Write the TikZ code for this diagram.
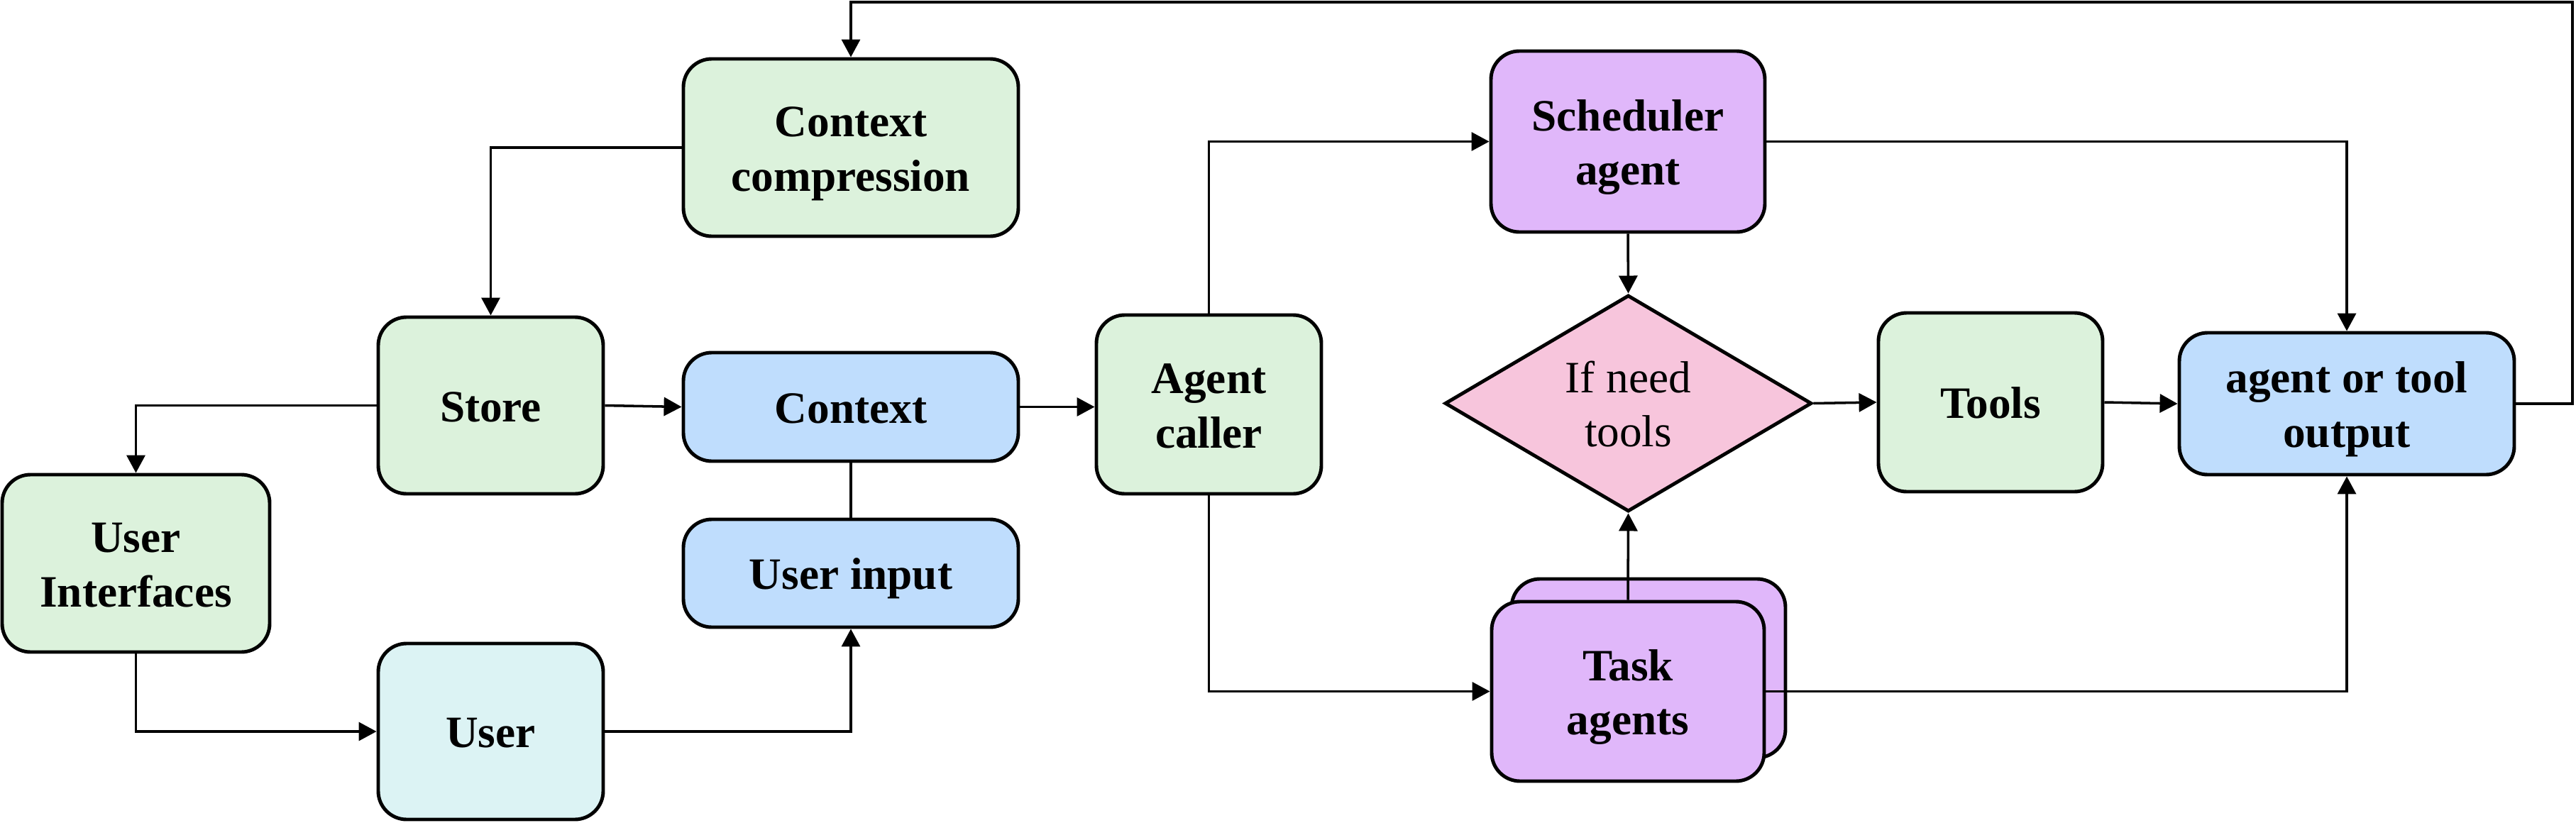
\documentclass[tikz,border=0pt]{standalone}
\usepackage{fontspec}
\setmainfont{Liberation Serif}
\usetikzlibrary{arrows.meta,shapes.geometric}
\definecolor{gfill}{HTML}{DCF2DC}
\definecolor{bfill}{HTML}{BFDDFD}
\definecolor{pfill}{HTML}{E0B7FA}
\definecolor{cfill}{HTML}{DCF3F4}
\definecolor{dfill}{HTML}{F7C5DC}
% one line = 21.8pt: 17.44pt above the baseline, 4.36pt below
\newcommand\lnstrut{\rule[-4.36pt]{0pt}{21.8pt}}
\newcommand\lbl[1]{\vbox{\offinterlineskip\halign{\hfil\lnstrut##\hfil\cr#1\crcr}}}
\tikzset{
  box/.style={draw=black, line width=1.4pt, rounded corners=0.4cm, inner sep=0pt,
    font=\fontsize{18}{21.8}\selectfont\bfseries},
  gbox/.style={box, fill=gfill},
  bbox/.style={box, fill=bfill},
  pbox/.style={box, fill=pfill},
  cbox/.style={box, fill=cfill},
  conn/.style={line width=1pt, -{Triangle[length=0.25cm,width=0.26cm]}},
  plain/.style={line width=1pt},
}
\begin{document}
\begin{tikzpicture}
\useasboundingbox (0,0) rectangle (36.30,11.59);
% nodes
\node[gbox, minimum width=4.72cm, minimum height=2.50cm] (cc) at (11.99,9.51) {\lbl{Context\cr compression}};
\node[gbox, minimum width=3.17cm, minimum height=2.49cm] (store) at (6.915,5.875) {\lbl{Store}};
\node[bbox, minimum width=4.72cm, minimum height=1.53cm] (ctx) at (11.99,5.855) {\lbl{Context}};
\node[bbox, minimum width=4.72cm, minimum height=1.52cm] (uin) at (11.99,3.51) {\lbl{User input}};
\node[gbox, minimum width=3.77cm, minimum height=2.50cm] (ui) at (1.915,3.65) {\lbl{User\cr Interfaces}};
\node[cbox, minimum width=3.17cm, minimum height=2.48cm] (user) at (6.915,1.28) {\lbl{User}};
\node[gbox, minimum width=3.17cm, minimum height=2.52cm] (ac) at (17.035,5.89) {\lbl{Agent\cr caller}};
\node[pbox, minimum width=3.86cm, minimum height=2.55cm] (sch) at (22.94,9.595) {\lbl{Scheduler\cr agent}};
\node[diamond, draw=black, line width=1.4pt, fill=dfill, minimum width=5.17cm, minimum height=3.05cm, inner sep=0pt,
  font=\fontsize{18}{21.8}\selectfont] (dec) at (22.945,5.905)
  {\makebox[0pt]{\raisebox{-17.44pt}[0pt][0pt]{\lbl{If need\cr tools}}}};
\node[gbox, minimum width=3.16cm, minimum height=2.52cm] (tools) at (28.05,5.92) {\lbl{Tools}};
\node[bbox, minimum width=4.72cm, minimum height=2.00cm] (out) at (33.07,5.90) {\lbl{agent or tool\cr output}};
\node[pbox, minimum width=3.86cm, minimum height=2.52cm] (taskb) at (23.23,2.17) {};
\node[pbox, minimum width=3.84cm, minimum height=2.53cm] (task) at (22.94,1.845) {\lbl{Task\cr agents}};
% coordinates
\coordinate (tr) at (36.25,11.56);
% connectors
\draw[conn] (out.east) -| (tr) -| (cc.north);
\draw[conn] (cc.west) -| (store.north);
\draw[conn] (store.west) -| (ui.north);
\draw[conn] (store.east) -- (ctx.west);
\draw[conn] (ui.south) |- (user.west);
\draw[conn] (user.east) -| (uin.south);
\draw[plain] (ctx.south) -- (uin.north);
\draw[conn] (ctx.east) -- (ctx.east -| ac.west);
\draw[conn] (ac.north) |- (sch.west);
\draw[conn] (ac.south) |- (task.west);
\draw[conn] (sch.south) -- (dec.north);
\draw[conn] (task.north) -- (dec.south);
\draw[conn] (sch.east) -| (out.north);
\draw[conn] (task.east) -| (out.south);
\draw[conn] (dec.east) -- (tools.west);
\draw[conn] (tools.east) -- (out.west);
\end{tikzpicture}
\end{document}
